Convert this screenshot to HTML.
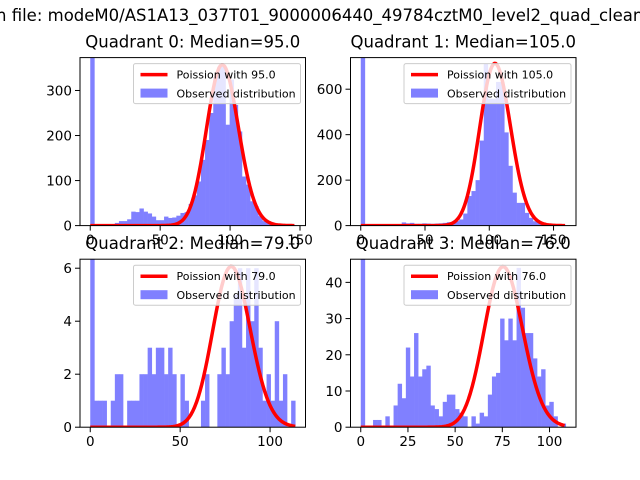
<!DOCTYPE html>
<html><head><meta charset="utf-8"><style>
html,body{margin:0;padding:0;background:#fff;}
svg{display:block;font-family:"DejaVu Sans","Liberation Sans",sans-serif;}
</style></head><body>
<svg id="fig" width="640" height="480" viewBox="0 0 640 480">
<text x="-4" y="21" font-size="16.5" fill="#000">n file: modeM0/AS1A13_037T01_9000006440_49784cztM0_level2_quad_clean.evt</text>
</svg>
<script>
const medians = [95.0, 105.0, 79.0, 76.0];
const peaks = [357, 713, 6.06, 44.3];
const dataMax = [146.6, 159.5, 114, 108.6];
const yMax = [373, 739, 6.34, 46.4];
const xTicks0 = [0, 50, 100, 150];
const xTicks1 = [0, 50, 100, 150];
const xTicks2 = [0, 50, 100];
const xTicks3 = [0, 25, 50, 75, 100];
const yTicks0 = [0, 100, 200, 300];
const yTicks1 = [0, 200, 400, 600];
const yTicks2 = [0, 2, 4, 6];
const yTicks3 = [0, 10, 20, 30, 40];
const counts0 = [1000,1,1,2,3,3,6,10,10,14,31,30,38,31,27,20,12,12,20,17,18,22,28,30,48,67,98,146,190,250,330,353,355,224,324,268,209,109,91,54,43,21,10,6,4,2,2,1,1,1];
const counts1 = [2000,1,1,2,3,3,4,5,6,6,14,10,12,8,8,10,9,8,9,10,12,15,15,20,27,53,130,152,200,374,713,558,558,632,632,410,263,145,100,100,56,34,19,15,9,5,3,2,1,1];
const counts2 = [7,1,1,1,0,1,2,2,0,1,1,1,2,2,3,2,3,3,2,3,2,0,2,1,0,0,0,1,2,0,0,2,3,2,4,5,6,3,6,4,6,3,1,2,1,4,1,2,0,1];
const counts3 = [200,0,0,2,2,0,3,0,6,12,8,22,14,26,14,16,17,6,5,3,7,9,9,5,4,3,0,3,1,4,3,9,14,15,30,24,30,24,44,33,26,26,19,14,16,6,7,3,0,1];

const NS = "http://www.w3.org/2000/svg";
const svg = document.getElementById('fig');
function mk(tag, attrs, parent){ const e=document.createElementNS(NS,tag); for(const k in attrs) e.setAttribute(k,attrs[k]); (parent||svg).appendChild(e); return e; }

const boxes = [[80,57.6,305.5,225.6],[350.5,57.6,576,225.6],[80,259.2,305.5,427.2],[350.5,259.2,576,427.2]];
const allCounts = [counts0,counts1,counts2,counts3];
const allX = [xTicks0,xTicks1,xTicks2,xTicks3];
const allY = [yTicks0,yTicks1,yTicks2,yTicks3];
const WIDEN = 1.17;

function lgamma(z){ // Stirling series for z>0
  if(z<7){ let s=0; while(z<7){ s-=Math.log(z); z+=1; } return s+lgamma(z); }
  return (z-0.5)*Math.log(z)-z+0.5*Math.log(2*Math.PI)+1/(12*z)-1/(360*z*z*z);
}
function logPois(x, lam){ return x*Math.log(lam)-lam-lgamma(x+1); }

for(let q=0;q<4;q++){
  const [L,T,R,B] = boxes[q];
  const mx = dataMax[q], margin = mx*0.05;
  const x0 = -margin, x1 = mx+margin;
  const sx = v => L + (v-x0)/(x1-x0)*(R-L);
  const sy = v => B - v/yMax[q]*(B-T);
  const g = mk('g',{});
  
  
  const clipId='clip'+q;
  const cp = mk('clipPath',{id:clipId},g); mk('rect',{x:L,y:T,width:R-L,height:B-T},cp);
  const plot = mk('g',{'clip-path':'url(#'+clipId+')'},g);
  const counts = allCounts[q];
  const bw = mx/counts.length;
  counts.forEach((c,i)=>{
    const xa=sx(i*bw), xb=sx((i+1)*bw);
    const r = mk('rect',{x:xa,y:sy(c),width:Math.max(0,xb-xa+0.3),height:Math.max(0,sy(0)-sy(c)),fill:'#8080ff'},plot);
    
    
  });
  const lam = medians[q];
  const kmax = Math.floor(mx);
  const lmax = logPois(lam, lam);
  let d='';
  for(let k=0;k<=kmax;k++){
    const xe = Math.max(0, lam + (k-lam)/WIDEN);
    const y = peaks[q]*Math.exp(logPois(xe,lam)-lmax);
    d += (k?'L':'M')+sx(k).toFixed(2)+' '+sy(y).toFixed(2);
  }
  const line = mk('path',{d:d,fill:'none',stroke:'#ff0000','stroke-width':3.5,'stroke-linejoin':'round'},plot);
  
  
  const sp = mk('rect',{x:L,y:T,width:R-L,height:B-T,fill:'none',stroke:'#000','stroke-width':1},g);
  
  
  allX[q].forEach(t=>{
    const x=sx(t);
    mk('line',{x1:x,y1:B,x2:x,y2:B+5,stroke:'#000','stroke-width':1},g);
    const tx = mk('text',{x:x,y:B+19,'font-size':13.5,'text-anchor':'middle',fill:'#000'},g);
    tx.textContent = String(t);
    
    
  });
  allY[q].forEach(t=>{
    const y=sy(t);
    mk('line',{x1:L-5,y1:y,x2:L,y2:y,stroke:'#000','stroke-width':1},g);
    const ty = mk('text',{x:L-8,y:y+5,'font-size':13.5,'text-anchor':'end',fill:'#000'},g);
    ty.textContent = String(t);
    
    
  });
  const tt = mk('text',{x:(L+R)/2,y:T-10,'font-size':16.5,'text-anchor':'middle',fill:'#000'},g);
  tt.textContent = 'Quadrant '+q+': Median='+medians[q].toFixed(1);
  
  
  const lg = mk('g',{},g);
  
  
  const lw=167, lh=40, lx=R-5-lw, ly=T+6;
  mk('rect',{x:lx,y:ly,width:lw,height:lh,rx:2,fill:'#fff','fill-opacity':0.8,stroke:'#ccc','stroke-width':1},lg);
  mk('line',{x1:lx+7,y1:ly+11,x2:lx+34,y2:ly+11,stroke:'#ff0000','stroke-width':3.5},lg);
  const t1 = mk('text',{x:lx+43,y:ly+15,'font-size':11,fill:'#000'},lg);
  t1.textContent = 'Poission with '+medians[q].toFixed(1);
  
  
  mk('rect',{x:lx+7,y:ly+25,width:27,height:9,fill:'#8080ff'},lg);
  const t2 = mk('text',{x:lx+43,y:ly+34,'font-size':11,fill:'#000'},lg);
  t2.textContent = 'Observed distribution';
  
  
}
</script>
</body></html>
